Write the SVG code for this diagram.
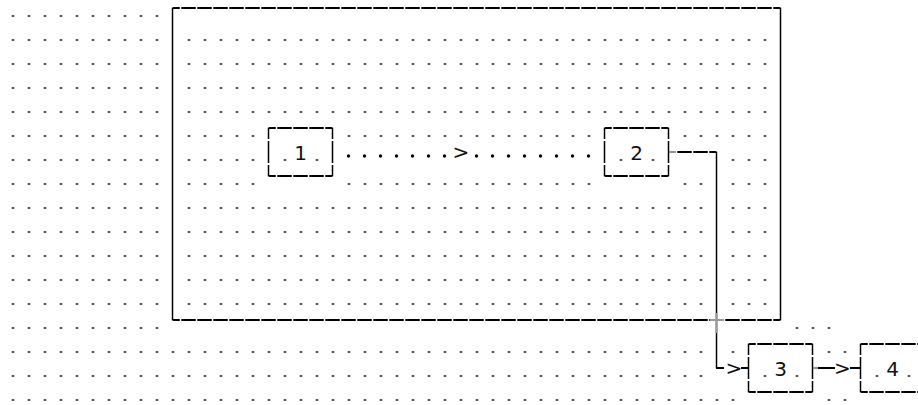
<svg xmlns="http://www.w3.org/2000/svg" width="918" height="405" viewBox="0 0 918 405">
<defs>
<pattern id="dots" patternUnits="userSpaceOnUse" x="4.5" y="-4" width="16" height="24">
<rect x="7.5" y="19" width="2" height="2" fill="#222"/>
</pattern>
<style>
.grid{fill:url(#dots)}
.h{fill:none;stroke:#000;stroke-width:2;stroke-dasharray:14.5 1.5;stroke-dashoffset:7.25}
.v{fill:none;stroke:#000;stroke-width:1.5}
.vd{fill:none;stroke:#000;stroke-width:1.5;stroke-dasharray:22 2;stroke-dashoffset:11}
.ln{fill:none;stroke:#000;stroke-width:2}
.stub{fill:none;stroke:#777;stroke-width:1.6}
.lbl{font-family:"DejaVu Sans",sans-serif;font-size:20px;fill:#111;text-anchor:middle}
.bd{fill:#000}
</style>
</defs>
<rect width="918" height="405" fill="#fff"/>
<g id="background-dots">
<rect class="grid" x="4.5" y="-4" width="160" height="408"/>
<rect class="grid" x="164.5" y="332" width="544" height="72"/>
<rect class="grid" x="180.5" y="20" width="592" height="96"/>
<rect class="grid" x="180.5" y="116" width="80" height="72"/>
<rect class="grid" x="340.5" y="116" width="256" height="24"/>
<rect class="grid" x="340.5" y="164" width="256" height="24"/>
<rect class="grid" x="676.5" y="116" width="96" height="24"/>
<rect class="grid" x="276.5" y="140" width="16" height="24"/>
<rect class="grid" x="308.5" y="140" width="16" height="24"/>
<rect class="grid" x="612.5" y="140" width="16" height="24"/>
<rect class="grid" x="644.5" y="140" width="16" height="24"/>
<rect class="grid" x="724.5" y="140" width="48" height="24"/>
<rect class="grid" x="676.5" y="164" width="32" height="24"/>
<rect class="grid" x="724.5" y="164" width="48" height="24"/>
<rect class="grid" x="180.5" y="188" width="528" height="120"/>
<rect class="grid" x="724.5" y="188" width="48" height="120"/>
<rect class="grid" x="788.5" y="308" width="48" height="24"/>
<rect class="grid" x="724.5" y="332" width="16" height="24"/>
<rect class="grid" x="820.5" y="332" width="32" height="24"/>
<rect class="grid" x="756.5" y="356" width="16" height="24"/>
<rect class="grid" x="788.5" y="356" width="16" height="24"/>
<rect class="grid" x="868.5" y="356" width="16" height="24"/>
<rect class="grid" x="900.5" y="356" width="16" height="24"/>
<rect class="grid" x="708.5" y="380" width="32" height="24"/>
<rect class="grid" x="820.5" y="380" width="32" height="24"/>
</g>
<g id="frame">
<path class="h" d="M172.5 8H780.5M172.5 320H780.5"/>
<path class="v" d="M172.5 8V320M780.5 8V320"/>
</g>
<g id="node-1">
<path class="h" d="M268.5 128H332.5M268.5 176H332.5"/>
<path class="vd" d="M268.5 128V176M332.5 128V176"/>
<text class="lbl" x="300.5" y="160">1</text>
</g>
<g id="node-2">
<path class="h" d="M604.5 128H668.5M604.5 176H668.5"/>
<path class="vd" d="M604.5 128V176M668.5 128V176"/>
<text class="lbl" x="636.5" y="160">2</text>
</g>
<g id="node-3">
<path class="h" d="M748.5 344H812.5M748.5 392H812.5"/>
<path class="vd" d="M748.5 344V392M812.5 344V392"/>
<text class="lbl" x="780.5" y="376">3</text>
</g>
<g id="node-4">
<path class="h" d="M860.5 344H924.5M860.5 392H924.5"/>
<path class="vd" d="M860.5 344V392"/>
<text class="lbl" x="892.5" y="376">4</text>
</g>
<g id="connectors">
<g id="edge-1-2">
<circle class="bd" cx="348.5" cy="156" r="1.7"/>
<circle class="bd" cx="364.5" cy="156" r="1.7"/>
<circle class="bd" cx="380.5" cy="156" r="1.7"/>
<circle class="bd" cx="396.5" cy="156" r="1.7"/>
<circle class="bd" cx="412.5" cy="156" r="1.7"/>
<circle class="bd" cx="428.5" cy="156" r="1.7"/>
<circle class="bd" cx="444.5" cy="156" r="1.7"/>
<text class="lbl" x="461" y="159">&gt;</text>
<circle class="bd" cx="476.5" cy="156" r="1.7"/>
<circle class="bd" cx="492.5" cy="156" r="1.7"/>
<circle class="bd" cx="508.5" cy="156" r="1.7"/>
<circle class="bd" cx="524.5" cy="156" r="1.7"/>
<circle class="bd" cx="540.5" cy="156" r="1.7"/>
<circle class="bd" cx="556.5" cy="156" r="1.7"/>
<circle class="bd" cx="572.5" cy="156" r="1.7"/>
<circle class="bd" cx="588.5" cy="156" r="1.7"/>
</g>
<g id="edge-2-3">
<path class="stub" d="M669 152H676"/>
<path class="h" style="stroke-dashoffset:15.25" d="M676.5 152H716.5"/>
<path class="v" d="M716.5 152V368"/>
<path class="ln" d="M716 368H724"/>
<path stroke="#999" stroke-width="2" fill="none" d="M710 320H724M716.5 313V333"/>
<text class="lbl" x="734" y="375">&gt;</text>
<path class="ln" d="M741 368H748.5"/>
</g>
<g id="edge-3-4">
<path class="stub" d="M813 368H818"/>
<path class="ln" d="M818 368H835"/>
<text class="lbl" x="842.5" y="375">&gt;</text>
<path class="ln" d="M850 368H860.5"/>
</g>
</g>
</svg>
